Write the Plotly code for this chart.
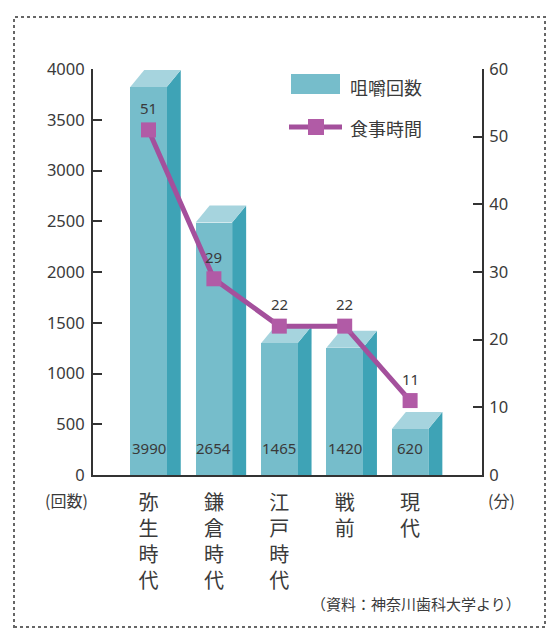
import plotly.graph_objects as go

# ---- data ----
categories = ["弥生時代", "鎌倉時代", "江戸時代", "戦前", "現代"]
chew_counts = [3990, 2654, 1465, 1420, 620]
meal_minutes = [51, 29, 22, 22, 11]
left_ticks = [0, 500, 1000, 1500, 2000, 2500, 3000, 3500, 4000]
right_ticks = [0, 10, 20, 30, 40, 50, 60]
series_names = ["咀嚼回数", "食事時間"]
source_text = "（資料：神奈川歯科大学より）"

# ---- layout geometry (pixels) ----
W, H = 547, 630
L, R, T, B = 93, 482, 69, 475
PX_PER_CAT = 65.4
FIRST_CENTER = 148.5
xr0 = -(FIRST_CENTER - L) / PX_PER_CAT
xr1 = xr0 + (R - L) / PX_PER_CAT
YMAX_L, YMAX_R = 4000, 60

bar_w = 36.5 / PX_PER_CAT
dx = 14 / PX_PER_CAT
dy = 17 * YMAX_L / (B - T)

FONT = "Noto Sans CJK JP, Noto Sans, sans-serif"
NUMFONT = "Noto Sans, Noto Sans CJK JP, sans-serif"
TXT = "#3a3a3a"
AX = "#333333"
FRONT = "#76bdcb"
SIDE = "#3ea3b6"
TOP = "#a6d4de"
LINE = "#a4509c"
MARK = "#b15ba6"


def ppx(x):
    return (x - L) / (R - L)


def ppy(y):
    return (B - y) / (B - T)


xs = list(range(len(categories)))

fig = go.Figure()

# front faces of bars
fig.add_trace(go.Bar(
    x=xs, y=[v - dy for v in chew_counts], width=bar_w,
    marker=dict(color=FRONT, line=dict(width=0)),
    name=series_names[0], yaxis="y", showlegend=False,
    hovertext=[str(v) for v in chew_counts], hoverinfo="text",
))

# line
fig.add_trace(go.Scatter(
    x=xs, y=meal_minutes, mode="lines+markers", yaxis="y2",
    line=dict(color=LINE, width=5),
    marker=dict(symbol="square", size=15, color=MARK),
    name=series_names[1], showlegend=False,
))

shapes = []
annotations = []
for i, v in zip(xs, chew_counts):
    x0 = i + bar_w / 2
    x1 = x0 + dx
    shapes.append(dict(type="path", xref="x", yref="y", layer="below",
                       path=f"M {x0},0 L {x0},{v-dy} L {x1},{v} L {x1},0 Z",
                       fillcolor=SIDE, line=dict(width=0)))
    xl = i - bar_w / 2
    shapes.append(dict(type="path", xref="x", yref="y", layer="below",
                       path=f"M {xl},{v-dy} L {x0},{v-dy} L {x1},{v} L {xl+dx},{v} Z",
                       fillcolor=TOP, line=dict(width=0)))
    annotations.append(dict(x=i, y=265, xref="x", yref="y", text=str(v),
                            showarrow=False,
                            font=dict(size=15, color=TXT, family=NUMFONT)))

for i, m in zip(xs, meal_minutes):
    annotations.append(dict(x=i, y=m, xref="x", yref="y2", text=str(m), yshift=22,
                            showarrow=False,
                            font=dict(size=15, color=TXT, family=NUMFONT)))

# legend (custom)
shapes.append(dict(type="rect", xref="paper", yref="paper",
                   x0=ppx(291), x1=ppx(340), y0=ppy(94), y1=ppy(74),
                   fillcolor=FRONT, line=dict(width=0)))
shapes.append(dict(type="line", xref="paper", yref="paper",
                   x0=ppx(289), x1=ppx(342), y0=ppy(127), y1=ppy(127),
                   line=dict(color=LINE, width=5)))
shapes.append(dict(type="rect", xref="paper", yref="paper",
                   x0=ppx(308), x1=ppx(324), y0=ppy(135), y1=ppy(119),
                   fillcolor=MARK, line=dict(width=0)))
annotations.append(dict(x=ppx(348), y=ppy(87), xref="paper", yref="paper",
                        xanchor="left", yanchor="middle", text=series_names[0],
                        showarrow=False, font=dict(size=18, color=TXT, family=FONT)))
annotations.append(dict(x=ppx(348), y=ppy(128), xref="paper", yref="paper",
                        xanchor="left", yanchor="middle", text=series_names[1],
                        showarrow=False, font=dict(size=18, color=TXT, family=FONT)))

# axis unit labels
annotations.append(dict(x=ppx(66), y=ppy(500), xref="paper", yref="paper",
                        xanchor="center", yanchor="middle",
                        text="(回数)", showarrow=False,
                        font=dict(size=16, color=TXT, family=FONT)))
annotations.append(dict(x=ppx(501), y=ppy(500), xref="paper", yref="paper",
                        xanchor="center", yanchor="middle",
                        text="(分)", showarrow=False,
                        font=dict(size=16, color=TXT, family=FONT)))
# source
annotations.append(dict(x=ppx(523), y=ppy(603), xref="paper", yref="paper",
                        xanchor="right", yanchor="middle", text=source_text,
                        showarrow=False,
                        font=dict(size=15, color=TXT, family=FONT)))

# dotted frame
shapes.append(dict(type="rect", xref="paper", yref="paper",
                   x0=ppx(14), x1=ppx(545), y0=ppy(627), y1=ppy(17),
                   line=dict(color="#666666", width=2, dash="dot"), layer="below"))

fig.update_layout(
    width=W, height=H,
    margin=dict(l=L, r=W - R, t=T, b=H - B, pad=0),
    paper_bgcolor="white", plot_bgcolor="white",
    font=dict(family=FONT, color=TXT),
    bargap=0,
    xaxis=dict(range=[xr0, xr1], tickvals=xs,
               ticktext=["<br>".join(list(c)) for c in categories],
               showline=True, linecolor=AX, linewidth=2, ticks="",
               showgrid=False, zeroline=False, ticklabelstandoff=9,
               tickfont=dict(size=20, color=TXT, family=FONT)),
    yaxis=dict(range=[0, YMAX_L], tickvals=left_ticks, showline=True,
               linecolor=AX, linewidth=2, ticks="inside", ticklen=9,
               tickwidth=2, tickcolor=AX, showgrid=False, zeroline=False,
               ticklabelstandoff=3,
               tickfont=dict(size=16.5, color=TXT, family=NUMFONT)),
    yaxis2=dict(range=[0, YMAX_R], tickvals=right_ticks, overlaying="y",
                side="right", showline=True, linecolor=AX, linewidth=2,
                ticks="inside", ticklen=9, tickwidth=2, tickcolor=AX,
                showgrid=False, zeroline=False, ticklabelstandoff=2,
                tickfont=dict(size=16.5, color=TXT, family=NUMFONT)),
    shapes=shapes, annotations=annotations,
)

fig.write_html("out.html")
